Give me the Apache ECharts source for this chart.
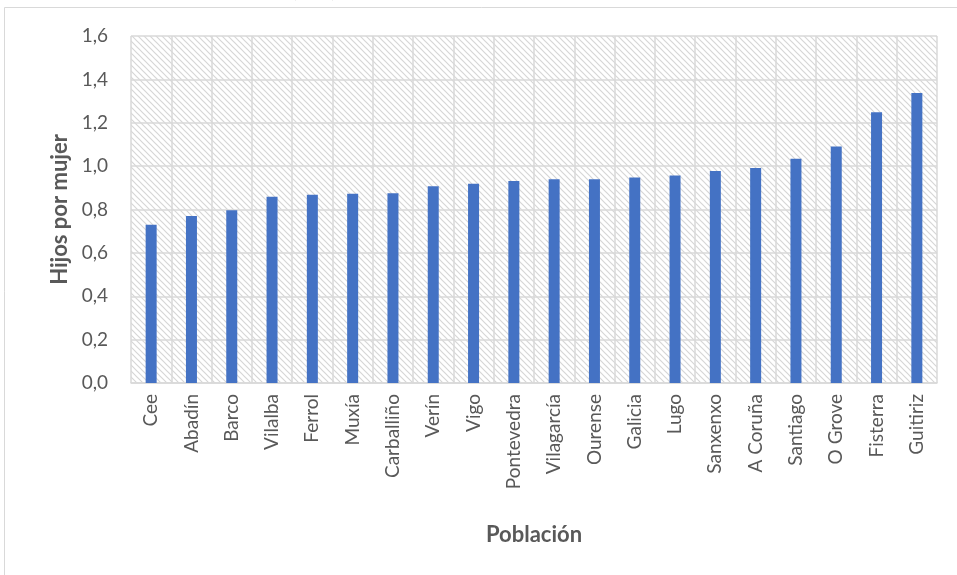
<!DOCTYPE html>
<html>
<head>
<meta charset="utf-8">
<script src="https://cdn.jsdelivr.net/npm/echarts@6/dist/echarts.min.js"></script>
<style>
  html, body { margin: 0; padding: 0; background: #fff; }
  #chart { width: 957px; height: 575px; }
</style>
</head>
<body>
<div id="chart"></div>
<script>
// Tasa de fecundidad por población
const categories = ['Cee', 'Abadín', 'Barco', 'Vilalba', 'Ferrol', 'Muxía', 'Carballiño', 'Verín', 'Vigo',
  'Pontevedra', 'Vilagarcía', 'Ourense', 'Galicia', 'Lugo', 'Sanxenxo', 'A Coruña', 'Santiago',
  'O Grove', 'Fisterra', 'Guitiriz'];
const hijosPorMujer = [0.73, 0.77, 0.796, 0.859, 0.868, 0.873, 0.875, 0.907, 0.919,
  0.931, 0.939, 0.939, 0.948, 0.957, 0.977, 0.991, 1.034,
  1.091, 1.248, 1.337];
const yTicks = { min: 0, max: 1.6, interval: 0.2 };
const yAxisTitle = 'Hijos por mujer';
const xAxisTitle = 'Población';
const titleText = '(2017)';

// diagonal hatch used as the plot-area fill
function hatchPattern() {
  const s = 6;
  const c = document.createElement('canvas');
  c.width = s; c.height = s;
  const g = c.getContext('2d');
  g.fillStyle = '#ffffff';
  g.fillRect(0, 0, s, s);
  g.strokeStyle = '#d6d6d6';
  g.lineWidth = 1.2;
  g.beginPath();
  g.moveTo(-1, -1); g.lineTo(s + 1, s + 1);
  g.moveTo(-1, s - 1); g.lineTo(1, s + 1);
  g.moveTo(s - 1, -1); g.lineTo(s + 1, 1);
  g.stroke();
  return { image: c, repeat: 'repeat' };
}

const FONT = 'Lato, "Open Sans", sans-serif';
const chart = echarts.init(document.getElementById('chart'), null, { renderer: 'canvas' });

chart.setOption({
  animation: false,
  backgroundColor: '#ffffff',
  graphic: [
    {
      type: 'rect', silent: true, z: -10,
      shape: { x: 4.5, y: 7.5, width: 1000, height: 700 },
      style: { fill: 'none', stroke: '#d9d9d9', lineWidth: 1 }
    },
    {
      type: 'text', silent: true,
      x: 314, y: 1,
      style: { text: titleText, font: '15px ' + FONT, fill: '#595959', align: 'center', verticalAlign: 'bottom' }
    }
  ],
  grid: {
    left: 131, right: 20, top: 36, bottom: 192,
    show: true, backgroundColor: hatchPattern(), borderWidth: 0
  },
  xAxis: {
    type: 'category',
    data: categories,
    name: xAxisTitle,
    nameLocation: 'middle',
    nameGap: 141,
    nameTextStyle: { fontFamily: FONT, fontSize: 22, fontWeight: 'bold', color: '#595959' },
    axisLine: { show: true, lineStyle: { color: '#d9d9d9', width: 1.5 } },
    axisTick: { show: false },
    splitLine: { show: true, lineStyle: { color: '#d9d9d9', width: 1.5 } },
    axisLabel: { rotate: 90, margin: 11, fontFamily: FONT, fontSize: 19, color: '#595959', interval: 0 }
  },
  yAxis: {
    type: 'value',
    min: yTicks.min, max: yTicks.max, interval: yTicks.interval,
    name: yAxisTitle,
    nameLocation: 'middle',
    nameGap: 58,
    nameTextStyle: { fontFamily: FONT, fontSize: 22, fontWeight: 'bold', color: '#595959' },
    axisLine: { show: false },
    axisTick: { show: false },
    splitLine: { show: true, lineStyle: { color: '#d9d9d9', width: 1.5 } },
    axisLabel: {
      margin: 23, fontFamily: FONT, fontSize: 19, color: '#595959',
      formatter: v => v.toFixed(1).replace('.', ',')
    }
  },
  series: [{
    type: 'bar',
    data: hijosPorMujer,
    barWidth: 11,
    itemStyle: { color: '#4472C4' }
  }]
});
</script>
</body>
</html>
